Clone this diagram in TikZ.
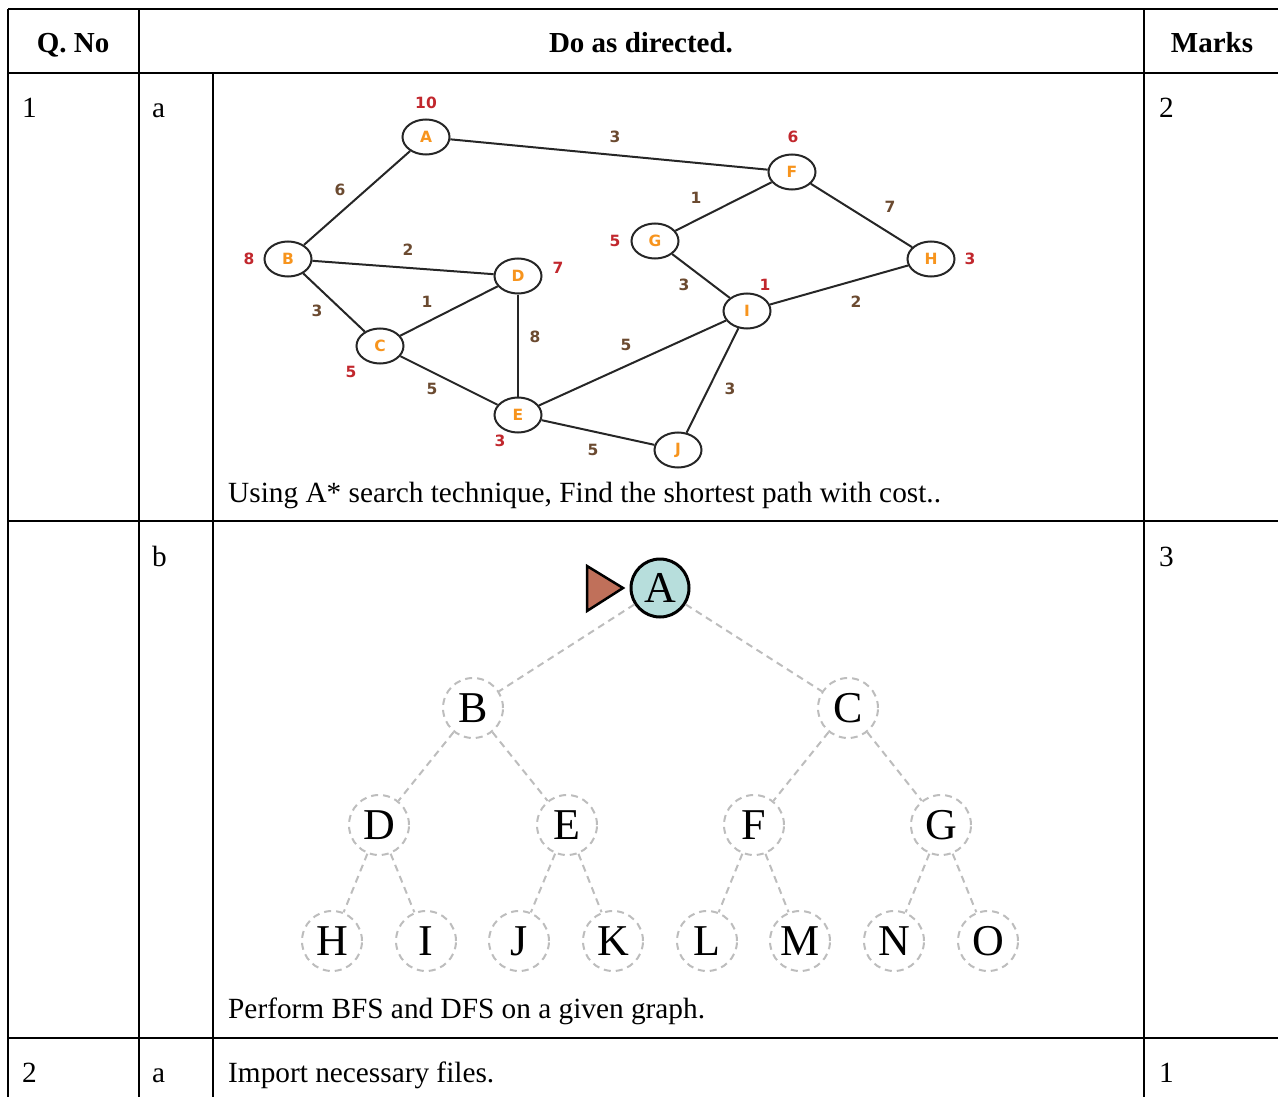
\documentclass[tikz,border=0pt]{standalone}
\usepackage{fontspec}
\setmainfont{Liberation Serif}
\newfontfamily\gfont{DejaVu Sans}
\usetikzlibrary{shapes.geometric}
\definecolor{gorange}{HTML}{F7941D}
\definecolor{hred}{HTML}{C1272D}
\definecolor{wbrown}{HTML}{6B4A30}
\definecolor{dgray}{HTML}{BDBDBD}
\definecolor{teal}{HTML}{B7DEDC}
\definecolor{tribrown}{HTML}{C0705A}
\begin{document}
\begin{tikzpicture}[x=1pt,y=-1pt,
  tbl/.style={line width=2pt, black},
  txt/.style={font=\fontsize{29.3}{34}\selectfont, inner sep=0, anchor=base west},
  hdr/.style={font=\fontsize{29}{34}\selectfont\bfseries, inner sep=0, anchor=base},
  gn/.style={ellipse, draw=black!85, line width=2pt, minimum width=47, minimum height=35, inner sep=0, text=gorange, font=\gfont\bfseries\fontsize{15.5}{15.5}\selectfont},
  ge/.style={draw=black!85, line width=2pt},
  heur/.style={text=hred, inner sep=0, font=\gfont\bfseries\fontsize{15.5}{15.5}\selectfont},
  wt/.style={text=wbrown, inner sep=0, font=\gfont\bfseries\fontsize{15.5}{15.5}\selectfont},
  tn/.style={circle, draw=dgray, dash pattern=on 7pt off 5pt, line width=2pt, minimum size=60, inner sep=0, font=\fontsize{44}{44}\selectfont},
  te/.style={draw=dgray, dash pattern=on 7pt off 5pt, line width=2pt}]
\useasboundingbox (0,0) rectangle (1278,1097);
% table
\draw[tbl] (8,9) -- (1278,9);
\draw[tbl] (8,73) -- (1278,73);
\draw[tbl] (8,521) -- (1278,521);
\draw[tbl] (8,1038) -- (1278,1038);
\draw[tbl] (8,9) -- (8,1097);
\draw[tbl] (139,9) -- (139,1097);
\draw[tbl] (213,73) -- (213,1097);
\draw[tbl] (1144,9) -- (1144,1097);
\node[hdr] (h1) at (73,53) {Q. No};
\node[hdr] (h2) at (641,53) {Do as directed.};
\node[hdr] (h3) at (1212,53) {Marks};
\node[txt] (q1) at (22,118) {1};
\node[txt] (s1a) at (152,118) {a};
\node[txt] (m1a) at (1159,118) {2};
\node[txt] (s1b) at (152,566) {b};
\node[txt] (m1b) at (1159,566) {3};
\node[txt] (q2) at (22,1082) {2};
\node[txt] (s2a) at (152,1082) {a};
\node[txt] (m2a) at (1159,1082) {1};
\node[txt] (t1) at (228,502) {Using A* search technique, Find the shortest path with cost..};
\node[txt] (t2) at (228,1018) {Perform BFS and DFS on a given graph.};
\node[txt] (t3) at (228,1082) {Import necessary files.};
% A* graph
\node[gn] (A) at (426,137) {A};
\node[gn] (F) at (792,172) {F};
\node[gn] (B) at (288,259) {B};
\node[gn] (D) at (518,276) {D};
\node[gn] (G) at (655,241) {G};
\node[gn] (H) at (931,259) {H};
\node[gn] (I) at (747,311) {I};
\node[gn] (C) at (380,346) {C};
\node[gn] (E) at (518,415) {E};
\node[gn] (J) at (678,450) {J};
\draw[ge] (A) -- (F);
\draw[ge] (A) -- (B);
\draw[ge] (B) -- (D);
\draw[ge] (B) -- (C);
\draw[ge] (C) -- (D);
\draw[ge] (D) -- (E);
\draw[ge] (C) -- (E);
\draw[ge] (F) -- (G);
\draw[ge] (F) -- (H);
\draw[ge] (G) -- (I);
\draw[ge] (I) -- (H);
\draw[ge] (E) -- (I);
\draw[ge] (I) -- (J);
\draw[ge] (E) -- (J);
\node[heur] (hA) at (426,103) {10};
\node[heur] (hF) at (793,137) {6};
\node[heur] (hB) at (249,259) {8};
\node[heur] (hD) at (558,268) {7};
\node[heur] (hG) at (615,241) {5};
\node[heur] (hH) at (970,259) {3};
\node[heur] (hI) at (765,285) {1};
\node[heur] (hC) at (351,372) {5};
\node[heur] (hE) at (500,441) {3};
\node[wt] (wAF) at (615,137) {3};
\node[wt] (wAB) at (340,190) {6};
\node[wt] (wBD) at (408,250) {2};
\node[wt] (wFG) at (696,198) {1};
\node[wt] (wFH) at (890,207) {7};
\node[wt] (wBC) at (317,311) {3};
\node[wt] (wCD) at (427,302) {1};
\node[wt] (wDE) at (535,337) {8};
\node[wt] (wGI) at (684,285) {3};
\node[wt] (wIH) at (856,302) {2};
\node[wt] (wEI) at (626,345) {5};
\node[wt] (wCE) at (432,389) {5};
\node[wt] (wIJ) at (730,389) {3};
\node[wt] (wEJ) at (593,450) {5};
% BFS tree
\node[tn] (tB) at (473,708) {B};
\node[tn] (tC) at (848,708) {C};
\node[tn] (tD) at (379,825) {D};
\node[tn] (tE) at (567,825) {E};
\node[tn] (tF) at (754,825) {F};
\node[tn] (tG) at (941,825) {G};
\node[tn] (tH) at (332,941) {H};
\node[tn] (tI) at (426,941) {I};
\node[tn] (tJ) at (519,941) {J};
\node[tn] (tK) at (613,941) {K};
\node[tn] (tL) at (707,941) {L};
\node[tn] (tM) at (800,941) {M};
\node[tn] (tN) at (894,941) {N};
\node[tn] (tO) at (988,941) {O};
\node[circle, draw=black, solid, line width=3pt, fill=teal, minimum size=58, inner sep=0, font=\fontsize{44}{44}\selectfont] (tA) at (660,588) {A};
\draw[te] (tA) -- (tB);
\draw[te] (tA) -- (tC);
\draw[te] (tB) -- (tD);
\draw[te] (tB) -- (tE);
\draw[te] (tC) -- (tF);
\draw[te] (tC) -- (tG);
\draw[te] (tD) -- (tH);
\draw[te] (tD) -- (tI);
\draw[te] (tE) -- (tJ);
\draw[te] (tE) -- (tK);
\draw[te] (tF) -- (tL);
\draw[te] (tF) -- (tM);
\draw[te] (tG) -- (tN);
\draw[te] (tG) -- (tO);
\draw[fill=tribrown, line width=2.5pt, line join=miter] (587,566) -- (623,588) -- (587,611) -- cycle;
\end{tikzpicture}
\end{document}
